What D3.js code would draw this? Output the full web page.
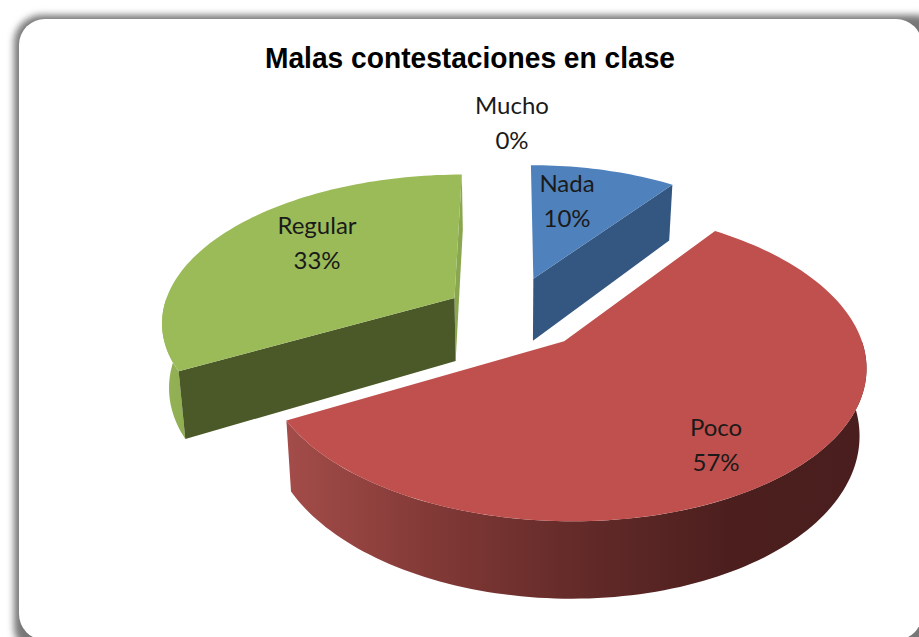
<!DOCTYPE html>
<html>
<head>
<meta charset="utf-8">
<script src="https://cdn.jsdelivr.net/npm/d3@7"></script>
<style>
  html, body { margin: 0; padding: 0; background: #fff; overflow: hidden; }
  text { fill: #1a1a1a; }
</style>
</head>
<body>
<script>
// chart data
var categories = ['Nada', 'Poco', 'Regular', 'Mucho'];
var percents = [10, 57, 33, 0];
var chartTitle = 'Malas contestaciones en clase';

var width = 919,
    height = 637;

// 3d look of the pie: plane centre, tilt, perspective, thickness
var cx = 510, cy = 310, Rbase = 295, tilt = 0.5, persp = 0.15;
var explode = 68, depth = 64, depthShrink = 0.02;

// per slice fine tuning of the exploded pieces (radius, screen nudge)
var pieceLayout = {
  Nada: { r: 275, dx: 3, dy: 0 },
  Poco: { r: 290, dx: 8, dy: 5 },
  Regular: { r: 293, dx: 2, dy: 5 },
  Mucho: { r: 290, dx: 0, dy: 0 }
};

var topColor = d3.scaleOrdinal().domain(categories)
  .range(['#4f81bd', '#c0504d', '#9bbb59', '#f79646']);
var innerColor = d3.scaleOrdinal().domain(categories)
  .range(['#345781', '#8c3836', '#4b5828', '#b36d2f']);

// label spots, one per category (screen px)
var labelSpots = { Nada: [567, 184], Poco: [716, 428], Regular: [317, 226], Mucho: [512, 106] };

var svg = d3.select('body').append('svg')
  .attr('width', width)
  .attr('height', height)
  .style('display', 'block');

var defs = svg.append('defs');

// soft shadow round the panel
var blur = defs.append('filter').attr('id', 'soft')
  .attr('x', '-5%').attr('y', '-5%').attr('width', '110%').attr('height', '110%');
blur.append('feGaussianBlur').attr('stdDeviation', 3.5);

// outer wall gradients, dark toward the right
function wallGradient(id, stops) {
  var g = defs.append('linearGradient').attr('id', id)
    .attr('gradientUnits', 'userSpaceOnUse')
    .attr('x1', 160).attr('x2', 870).attr('y1', 0).attr('y2', 0);
  stops.forEach(function(s) {
    g.append('stop').attr('offset', s[0]).attr('stop-color', s[1]);
  });
}
wallGradient('wallPoco', [[0.18, '#a34c49'], [0.4, '#7f3835'], [0.6, '#622a28'], [0.8, '#4c1f1e'], [1, '#4a1e1e']]);
wallGradient('wallRegular', [[0, '#94b255'], [0.1, '#8aa64e'], [1, '#8aa64e']]);
wallGradient('wallNada', [[0, '#345781'], [1, '#345781']]);

// panel
svg.append('rect')
  .attr('x', 14).attr('y', 15).attr('width', 930).attr('height', 640).attr('rx', 28)
  .attr('fill', '#777')
  .attr('filter', 'url(#soft)');
svg.append('rect')
  .attr('x', 19).attr('y', 19).attr('width', 903).attr('height', 621).attr('rx', 26)
  .attr('fill', '#fff');

// title
svg.append('text')
  .attr('x', 470).attr('y', 68)
  .attr('text-anchor', 'middle')
  .style('font-family', '"Liberation Sans", Arial, sans-serif')
  .style('font-weight', 'bold')
  .style('font-size', '30px')
  .style('fill', '#000')
  .attr('textLength', 410)
  .attr('lengthAdjust', 'spacingAndGlyphs')
  .text(chartTitle);

var pie = d3.pie().sort(null).value(function(d) { return d.value; });
var slices = pie(categories.map(function(c, i) {
  return { name: c, value: percents[i] };
}));

// plane point -> screen point. angle is clockwise from the back of the pie
function project(slice, r, angle, z) {
  var mid = (slice.startAngle + slice.endAngle) / 2;
  var piece = pieceLayout[slice.data.name];
  var X = explode * Math.sin(mid) + r * Math.sin(angle);
  var Y = explode * Math.cos(mid) + r * Math.cos(angle);
  var p = 1 / (1 + persp * Y / Rbase);
  return [
    cx + piece.dx + X * p * (1 - z * depthShrink),
    cy + piece.dy - Y * tilt * p + z * depth * p
  ];
}

function rimPoints(slice, z, from, to) {
  var a0 = from === undefined ? slice.startAngle : from;
  var a1 = to === undefined ? slice.endAngle : to;
  var R = pieceLayout[slice.data.name].r;
  var n = Math.max(2, Math.ceil(Math.abs(a1 - a0) * 40));
  return d3.range(n + 1).map(function(i) {
    return project(slice, R, a0 + (a1 - a0) * i / n, z);
  });
}

var line = d3.line();
var drawable = slices.filter(function(s) { return s.value > 0; });
// back to front
var order = ['Nada', 'Regular', 'Poco'];
drawable.sort(function(a, b) {
  return order.indexOf(a.data.name) - order.indexOf(b.data.name);
});

var groups = svg.selectAll('g.slice').data(drawable).enter()
  .append('g').attr('class', 'slice');

// sliver on the closing side
groups.filter(function(d) { return d.data.name === 'Regular'; })
  .append('path')
  .attr('d', function(d) {
    var R = pieceLayout[d.data.name].r;
    return line([
      project(d, R, d.endAngle, 0), project(d, R, d.endAngle, 1),
      project(d, 0, 0, 1), project(d, 0, 0, 0)
    ]) + 'Z';
  })
  .attr('fill', '#8aa64e');

// outer wall, only where the rim faces the viewer
groups.append('path')
  .attr('d', function(d) {
    var a0 = Math.max(d.startAngle, Math.PI / 2);
    var a1 = Math.min(d.endAngle, Math.PI * 3 / 2);
    if (a1 <= a0) return null;
    var top = rimPoints(d, 0, a0, a1);
    var bottom = rimPoints(d, 1, a0, a1).reverse();
    return line(top.concat(bottom)) + 'Z';
  })
  .attr('fill', function(d) { return 'url(#wall' + d.data.name + ')'; });

// inner wall along the slice's left edge as seen from the front
groups.filter(function(d) { return d.data.name !== 'Poco'; })
  .append('path')
  .attr('d', function(d) {
    var edge = d.data.name === 'Nada' ? d.endAngle : d.startAngle;
    var R = pieceLayout[d.data.name].r;
    return line([
      project(d, 0, 0, 0), project(d, R, edge, 0),
      project(d, R, edge, 1), project(d, 0, 0, 1)
    ]) + 'Z';
  })
  .attr('fill', function(d) { return innerColor(d.data.name); });

// top face
groups.append('path')
  .attr('d', function(d) {
    return line([project(d, 0, 0, 0)].concat(rimPoints(d, 0))) + 'Z';
  })
  .attr('fill', function(d) { return topColor(d.data.name); });

// labels
var labels = svg.selectAll('g.label').data(slices).enter()
  .append('g').attr('class', 'label')
  .attr('transform', function(d) {
    return 'translate(' + labelSpots[d.data.name] + ')';
  })
  .style('font-family', 'Lato, sans-serif')
  .style('font-size', '24px')
  .attr('text-anchor', 'middle');
labels.append('text').attr('y', 8).text(function(d) { return d.data.name; });
labels.append('text').attr('y', 43).text(function(d) { return d.data.value + '%'; });
</script>
</body>
</html>
